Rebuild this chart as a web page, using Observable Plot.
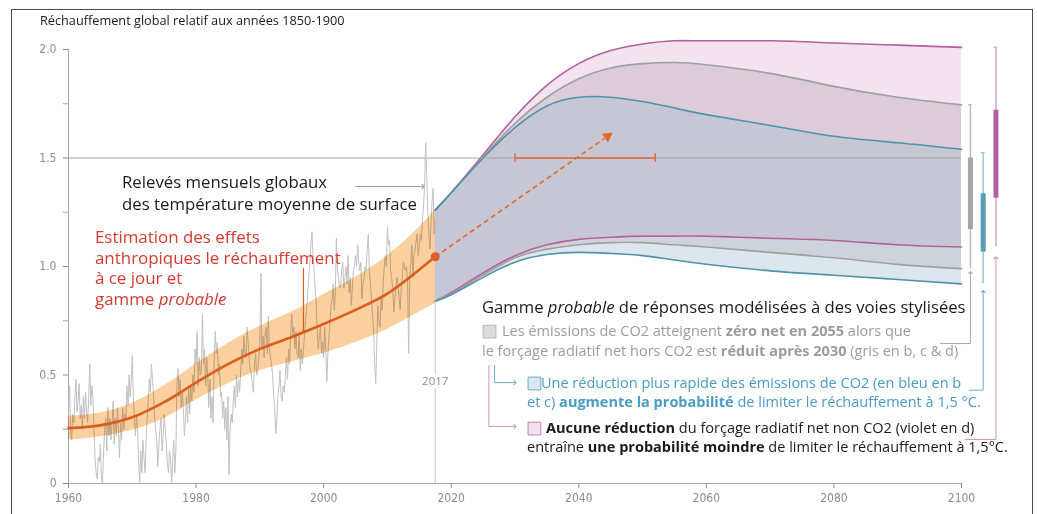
<!DOCTYPE html>
<html><head><meta charset="utf-8">
<script src="https://cdn.jsdelivr.net/npm/d3@7"></script>
<script src="https://cdn.jsdelivr.net/npm/@observablehq/plot@0.6"></script>
<style>
body{margin:0;background:#fff;}
#wrap{position:relative;width:1037px;height:514px;overflow:hidden;}
#frame{position:absolute;left:11px;top:9px;width:1022px;height:600px;border:1.5px solid #4a4a4a;box-sizing:border-box;pointer-events:none;}
</style></head><body><div id="wrap"><div id="frame"></div></div>
<script>
// ---------------- data ----------------
// monthly-record estimate, 6 readings per year from 1960
const obsStart = 1960, obsPerYear = 6;
const obsValues = [
0.30,0.45,0.25,0.20,0.32,0.28, 0.40,0.48,0.33,0.38,0.46,0.30, 0.36,0.25,0.40,0.30,0.42,0.33,
0.28,0.40,0.55,0.36,0.45,0.40, 0.25,0.12,0.05,0.02,0.12,0.10, 0.18,0.02,0.00,0.15,0.25,0.30,
0.15,0.35,0.22,0.30,0.20,0.28, 0.38,0.18,0.30,0.22,0.35,0.25, 0.12,0.28,0.20,0.35,0.25,0.32,
0.30,0.45,0.36,0.50,0.40,0.48, 0.59,0.40,0.30,0.22,0.32,0.25, 0.10,0.00,0.15,0.05,0.20,0.12,
0.05,0.20,0.30,0.38,0.48,0.42, 0.55,0.48,0.40,0.30,0.25,0.20, 0.08,0.18,0.25,0.30,0.15,0.22,
0.32,0.25,0.18,0.10,0.05,0.15, 0.12,0.00,0.10,0.20,0.05,0.15, 0.45,0.53,0.40,0.48,0.35,0.42,
0.35,0.22,0.30,0.40,0.28,0.45, 0.32,0.45,0.38,0.50,0.42,0.62, 0.55,0.70,0.45,0.58,0.50,0.52,
0.78,0.55,0.62,0.45,0.58,0.50, 0.35,0.48,0.30,0.40,0.28,0.55, 0.70,0.60,0.65,0.50,0.55,0.40,
0.42,0.30,0.38,0.25,0.35,0.20, 0.40,0.04,0.25,0.32,0.28,0.38, 0.45,0.35,0.50,0.40,0.48,0.42,
0.52,0.62,0.55,0.68,0.60,0.58, 0.72,0.65,0.58,0.52,0.50,0.45, 0.42,0.55,0.60,0.50,0.52,0.58,
0.65,0.97,0.62,0.68,0.58,0.70, 0.72,0.60,0.77,0.62,0.58,0.55, 0.50,0.40,0.35,0.23,0.30,0.40,
0.45,0.52,0.40,0.38,0.45,0.42, 0.50,0.58,0.48,0.62,0.55,0.70, 0.78,0.68,0.72,0.62,0.70,0.60,
0.58,0.70,0.52,0.62,0.55,0.62, 0.68,0.75,0.80,0.88,0.95,1.02, 1.10,1.16,1.05,0.98,0.90,0.82,
0.70,0.62,0.68,0.72,0.60,0.65, 0.58,0.72,0.62,0.47,0.60,0.68, 0.75,0.82,0.85,0.92,0.80,0.88,
1.13,0.98,0.95,0.90,0.92,0.98, 1.02,0.90,0.95,1.00,0.92,1.05, 0.88,0.95,0.82,0.90,0.98,1.00,
1.05,1.00,1.10,1.02,0.98,1.02, 0.85,0.92,0.95,1.00,0.98,1.08, 1.15,0.98,0.92,0.85,0.78,0.70,
0.55,0.46,0.65,0.82,0.75,0.72, 0.85,0.80,0.92,1.00,1.05,1.00, 1.18,1.10,1.12,0.98,0.95,0.90,
0.79,0.85,0.90,0.95,0.92,0.85, 0.80,0.90,0.95,1.02,1.00,0.98, 1.00,0.92,0.60,0.95,1.02,1.10,
0.95,1.05,1.08,1.12,1.15,1.05, 1.10,1.15,1.12,1.22,1.28,1.38, 1.57,1.42,1.25,1.15,1.08,1.20,
1.30,1.36,1.15,1.22,1.18,1.25
];

const estYears   = [1960, 1965, 1970, 1975, 1980, 1985, 1990, 1995, 2000, 2005, 2010, 2015, 2017.5];
const estCentral = [0.255,0.268,0.305,0.375,0.465,0.55,0.62,0.675,0.735,0.80,0.875,0.985,1.045];
const estLow     = [0.20,0.215,0.245,0.30,0.385,0.46,0.52,0.56,0.60,0.65,0.71,0.79,0.83];
const estHigh    = [0.31,0.325,0.37,0.45,0.55,0.645,0.725,0.79,0.87,0.95,1.05,1.18,1.26];

const projYears  = [2017.5, 2020, 2025, 2030, 2035, 2040, 2045, 2050, 2055, 2060, 2070, 2080, 2090, 2100];
const blueHigh   = [1.26,1.34,1.50,1.64,1.74,1.78,1.78,1.76,1.73,1.70,1.65,1.60,1.57,1.54];
const greyHigh   = [1.26,1.34,1.505,1.66,1.78,1.865,1.915,1.935,1.94,1.93,1.89,1.83,1.78,1.745];
const purpleHigh = [1.26,1.34,1.515,1.69,1.835,1.935,1.995,2.025,2.04,2.04,2.04,2.03,2.02,2.01];
const blueLow    = [0.84,0.87,0.95,1.02,1.055,1.065,1.06,1.05,1.03,1.01,0.98,0.96,0.94,0.92];
const greyLow    = [0.84,0.875,0.96,1.04,1.08,1.10,1.11,1.11,1.10,1.09,1.065,1.04,1.01,0.99];
const purpleLow  = [0.84,0.88,0.97,1.05,1.10,1.125,1.135,1.14,1.14,1.14,1.13,1.12,1.10,1.09];

// 2100 ranges (grey, blue, purple)
const boxNames      = ["gris", "bleu", "violet"];
const boxWhiskerLow = [0.99, 0.92, 1.09];
const boxLow        = [1.17, 1.066, 1.315];
const boxHigh       = [1.50, 1.335, 1.72];
const boxWhiskerHigh= [1.745, 1.525, 2.01];

const rangeAt15 = [2030, 2052];          // orange range when 1.5°C is reached
const currentYear = 2017.5, currentValue = 1.045;
const trendEnd = [2044.5, 1.60];         // current-rate arrow end

const yTickLabels = [0, 0.5, 1, 1.5, 2];
const yMinorTicks = [0.25, 0.75, 1.25, 1.75];
const xTickLabels = [1960, 1980, 2000, 2020, 2040, 2060, 2080, 2100];

const titleText = "Réchauffement global relatif aux années 1850-1900";
const obsLabel = ["Relevés mensuels globaux", "des température moyenne de surface"];
const estLabel = [[{t:"Estimation des effets"}],[{t:"anthropiques le réchauffement"}],[{t:"à ce jour et"}],[{t:"gamme "},{t:"probable",i:1}]];
const legendHeader = [{t:"Gamme "},{t:"probable",i:1},{t:" de réponses modélisées à des voies stylisées"}];
const legendGrey = [
  [{t:"Les émissions de CO2 atteignent "},{t:"zéro net en 2055",b:1},{t:" alors que"}],
  [{t:"le forçage radiatif net hors CO2 est "},{t:"réduit après 2030",b:1},{t:" (gris en b, c & d)"}]];
const legendBlue = [
  [{t:"Une réduction plus rapide des émissions de CO2 (en bleu en b"}],
  [{t:"et c) "},{t:"augmente la probabilité",b:1},{t:" de limiter le réchauffement à 1,5 °C."}]];
const legendPurple = [
  [{t:"Aucune réduction",b:1},{t:" du forçage radiatif net non CO2 (violet en d)"}],
  [{t:"entraîne "},{t:"une probabilité moindre",b:1},{t:" de limiter le réchauffement à 1,5°C."}]];

// ---------------- tables ----------------
const obs = obsValues.map((v,i)=>({x: obsStart + i/obsPerYear, y: v}));
const est = estYears.map((x,i)=>({x, c: estCentral[i], lo: estLow[i], hi: estHigh[i]}));
const proj = projYears.map((x,i)=>({x, bh: blueHigh[i], gh: greyHigh[i], ph: purpleHigh[i], bl: blueLow[i], gl: greyLow[i], pl: purpleLow[i]}));

// layout
const W=1037, H=514, ML=68, MR=76, MT=49, MB=31;
const FONT = "'Open Sans', 'Noto Sans', sans-serif";
const NARROW = "'Liberation Sans Narrow', 'DejaVu Sans Condensed', sans-serif";
const boxX = [2101.4, 2103.4, 2105.4];
const boxes = boxNames.map((n,i)=>({n, x: boxX[i], wl: boxWhiskerLow[i], lo: boxLow[i], hi: boxHigh[i], wh: boxWhiskerHigh[i]}));
const boxBoxCol = ["#a5a5a5", "#5a9cb3", "#b0609f"];
const boxWhCol  = ["#b9b9b9", "#9cc6d4", "#d7a5cc"];

const C_BLUE="#4e93aa", C_GREY="#9f9f9f", C_PURPLE="#b3609f", C_OR="#da5c1f";
const kx=(W-ML-MR)/140, ky=(H-MT-MB)/2;
const arrowAngle = Math.atan2((trendEnd[0]-currentYear)*kx, (trendEnd[1]-currentValue)*ky)*180/Math.PI;
const curveP = "natural";

const leaders = [
  {c:"#a9a9a9", pts:[[2096.7,0.645],[2101.4,0.645],[2101.4,0.972]]},
  {c:"#6aaec8", pts:[[2101.2,0.43],[2103.4,0.43],[2103.4,0.885]]},
  {c:"#cf93c4", pts:[[2100.6,0.203],[2105.4,0.203],[2105.4,1.04]]},
  {c:"#6aaec8", pts:[[2026.8,0.544],[2026.8,0.465],[2030.0,0.465]]},
  {c:"#cf93c4", pts:[[2025.9,0.544],[2025.9,0.263],[2030.0,0.263]]},
  {c:"#9a9a9a", pts:[[2005.0,1.369],[2015.6,1.369]]}
];
const leaderRows = leaders.flatMap((l,k)=>l.pts.map(p=>({k, c:l.c, x:p[0], y:p[1]})));

const chart = Plot.plot({
  width: W, height: H, marginLeft: ML, marginRight: MR, marginTop: MT, marginBottom: MB,
  x: {domain: [1960, 2100], label: null},
  y: {domain: [0, 2], label: null},
  style: {fontFamily: FONT, background: "transparent", overflow: "visible"},
  marks: [
    // projection fills
    Plot.areaY(proj, {x:"x", y1:"bl", y2:"gl", fill:"#dbe7ed", curve: curveP}),
    Plot.areaY(proj, {x:"x", y1:"gl", y2:"pl", fill:"#cdd2dc", curve: curveP}),
    Plot.areaY(proj, {x:"x", y1:"pl", y2:"bh", fill:"#c6c6d5", curve: curveP}),
    Plot.areaY(proj, {x:"x", y1:"bh", y2:"gh", fill:"#dccbd8", curve: curveP}),
    Plot.areaY(proj, {x:"x", y1:"gh", y2:"ph", fill:"#f2e3ee", curve: curveP}),
    Plot.lineY(proj, {x:"x", y:"ph", stroke:C_PURPLE, strokeWidth:1.6, curve: curveP}),
    Plot.lineY(proj, {x:"x", y:"pl", stroke:C_PURPLE, strokeWidth:1.6, curve: curveP}),
    Plot.lineY(proj, {x:"x", y:"gh", stroke:C_GREY, strokeWidth:1.6, curve: curveP}),
    Plot.lineY(proj, {x:"x", y:"gl", stroke:C_GREY, strokeWidth:1.6, curve: curveP}),
    Plot.lineY(proj, {x:"x", y:"bh", stroke:C_BLUE, strokeWidth:1.6, curve: curveP}),
    Plot.lineY(proj, {x:"x", y:"bl", stroke:C_BLUE, strokeWidth:1.6, curve: curveP}),
    // axes lines
    Plot.ruleY([0], {x1:1960, x2:2100, stroke:"#a8a8a8"}),
    Plot.ruleX([1960], {y1:0, y2:2, stroke:"#a8a8a8"}),
    Plot.ruleY([1.5], {x1:1960, x2:2100, stroke:"#a3a3a3", strokeWidth:1}),
    // 2017 marker line
    Plot.ruleX([currentYear], {y1:0, y2:0.84, stroke:"#cfcfcf", strokeWidth:1.2}),
    // observations
    Plot.lineY(obs, {x:"x", y:"y", stroke:"#c2c2c2", strokeWidth:1}),
    // anthropogenic estimate
    Plot.areaY(est, {x:"x", y1:"lo", y2:"hi", fill:"#fbd09e", mixBlendMode:"multiply", curve:"monotone-x"}),
    Plot.lineY(est, {x:"x", y:"c", stroke:C_OR, strokeWidth:2.6, curve:"monotone-x"}),
    Plot.text([currentYear], {x: d=>d, y: 0.47, text: ()=>"2017", fill:"#8e8e8e", stroke:"white", strokeWidth:8, fontSize:11.5, fontFamily: FONT}),
    // range at 1.5 and trend arrow
    Plot.ruleY([1.5], {x1: rangeAt15[0], x2: rangeAt15[1], stroke:"#d86a35", strokeWidth:1.3}),
    Plot.ruleX(rangeAt15, {y1:1.48, y2:1.52, stroke:"#d86a35", strokeWidth:1.3}),
    Plot.link([0], {x1: currentYear, y1: currentValue, x2: trendEnd[0]-0.5, y2: trendEnd[1]-0.01, stroke:"#e0692b", strokeWidth:1.6, strokeDasharray:"5,3.5"}),
    Plot.dot([0], {x: trendEnd[0], y: trendEnd[1], symbol:"triangle", r:4, fill:"#e0692b", rotate: arrowAngle}),
    Plot.dot([0], {x: currentYear, y: currentValue, r:4.5, fill:"#d9602a"}),
    // 2100 ranges
    Plot.ruleX(boxes, {x:"x", y1:"wl", y2:"wh", stroke:(d,i)=>boxWhCol[i], strokeWidth:1.5}),
    Plot.ruleY(boxes, {y:"wh", x1:d=>d.x-0.3, x2:d=>d.x+0.3, stroke:(d,i)=>boxWhCol[i], strokeWidth:1.2}),
    Plot.ruleX(boxes, {x:"x", y1:"lo", y2:"hi", stroke:(d,i)=>boxBoxCol[i], strokeWidth:5}),
    // leaders
    Plot.line(leaderRows, {x:"x", y:"y", z:"k", stroke:"c", strokeWidth:1, markerEnd:"arrow"}),
    Plot.lineY([0.99, 0.7], {x: 1996.84, y: d=>d, stroke:C_OR, strokeWidth:1.2}),
    Plot.dot([0.7], {x: 1996.84, y: d=>d, symbol:"square", r:1.6, fill:C_OR}),
    // legend swatches
    Plot.dot([{x:2026.0, y:0.700}], {x:"x", y:"y", symbol:"square", r:7.2, fill:"#dcdcdc", stroke:"#b5b5b5", strokeWidth:1}),
    Plot.dot([{x:2033.05, y:0.461}], {x:"x", y:"y", symbol:"square", r:7.2, fill:"#dbe7ed", stroke:"#6aa9c0", strokeWidth:1}),
    Plot.dot([{x:2033.05, y:0.253}], {x:"x", y:"y", symbol:"square", r:7.2, fill:"#f2e1ec", stroke:"#c083b5", strokeWidth:1}),
    // axes
    Plot.axisY({ticks: yTickLabels, tickFormat: d => d===0 ? "0" : d.toFixed(1), tickSize:5, tickPadding:7, color:"#8c8c8c", fontSize:12, fontFamily: NARROW, label: null}),
    Plot.axisY({ticks: yMinorTicks, tickFormat: () => "", tickSize:5, color:"#a8a8a8", label: null}),
    Plot.axisX({ticks: xTickLabels, tickFormat: d => String(d), tickSize:5, tickPadding:5, color:"#8c8c8c", fontSize:12, fontFamily: NARROW, label: null})
  ]
});
document.getElementById("wrap").prepend(chart);

const sx = chart.scale("x").apply, sy = chart.scale("y").apply;
function addText(spec) {
  const t = d3.select(chart).append("text")
    .attr("x", sx(spec.x)).attr("y", sy(spec.y)).attr("dy", "0.36em")
    .attr("text-anchor", "start")
    .attr("fill", spec.color)
    .style("font-size", spec.size + "px").style("font-family", FONT).style("white-space", "pre");
  spec.segs.forEach(s => t.append("tspan").text(s.t)
    .attr("font-weight", s.b ? "bold" : null).attr("font-style", s.i ? "italic" : null));
  const w = t.node().getComputedTextLength();
  return {t, ratio: w > 0 ? spec.w / w : 1, spec};
}
const RED = "#d63b30", LGREY = "#9c9c9c", LBLUE = "#4a9cc4", BLACK = "#1b1b1b";
const texts = [
  {g:"title", x:1955.61, y:2.134, segs:[{t:titleText}], color:BLACK, size:13, w:305},
  {g:"obs", x:1968.47, y:1.385, segs:[{t:obsLabel[0]}], color:BLACK, size:16, w:206},
  {g:"obs", x:1968.47, y:1.287, segs:[{t:obsLabel[1]}], color:BLACK, size:16, w:294},
  {g:"red", x:1964.23, y:1.133, segs:estLabel[0], color:RED, size:16, w:185},
  {g:"red", x:1964.23, y:1.038, segs:estLabel[1], color:RED, size:16, w:246},
  {g:"red", x:1964.23, y:0.943, segs:estLabel[2], color:RED, size:16, w:102},
  {g:"red", x:1964.23, y:0.848, segs:estLabel[3], color:RED, size:16, w:137},
  {g:"head", x:2024.90, y:0.811, segs:legendHeader, color:BLACK, size:15.5, w:484},
  {g:"leg", x:2028.04, y:0.700, segs:legendGrey[0], color:LGREY, size:13.5, w:378},
  {g:"leg", x:2024.90, y:0.608, segs:legendGrey[1], color:LGREY, size:13.5, w:483},
  {g:"leg", x:2034.15, y:0.461, segs:legendBlue[0], color:LBLUE, size:13.5, w:425},
  {g:"leg", x:2031.96, y:0.373, segs:legendBlue[1], color:LBLUE, size:13.5, w:455},
  {g:"leg", x:2034.94, y:0.253, segs:legendPurple[0], color:BLACK, size:13.5, w:404},
  {g:"leg", x:2031.96, y:0.166, segs:legendPurple[1], color:BLACK, size:13.5, w:481}
];
const made = texts.map(addText);
const groups = d3.group(made, m => m.spec.g);
for (const [g, arr] of groups) {
  const r = g === "red" ? d3.min(arr, m => m.ratio) : d3.median(arr, m => m.ratio);
  arr.forEach(m => m.t.style("font-size", (m.spec.size * r) + "px"));
}
</script></body></html>
